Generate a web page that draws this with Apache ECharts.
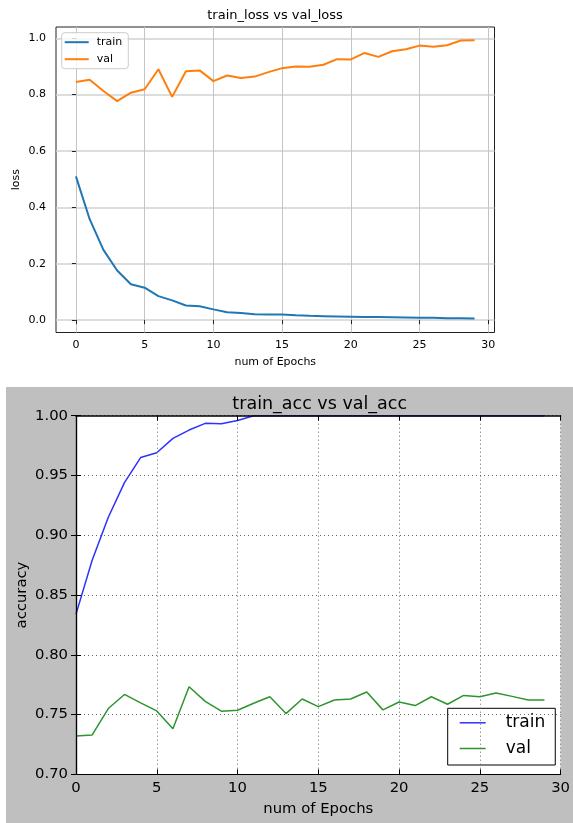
<!DOCTYPE html>
<html>
<head>
<meta charset="utf-8">
<script src="https://cdn.jsdelivr.net/npm/echarts@6/dist/echarts.min.js"></script>
<style>
  body { margin: 0; background: #fff; }
  #loss { position: absolute; left: 0; top: 0; width: 573px; height: 380px; }
  #acc { position: absolute; left: 6px; top: 387px; width: 567px; height: 436px; background: #bfbfbf; }
</style>
</head>
<body>
<div id="loss"></div>
<div id="acc"></div>
<script>
const epochs = [0, 1, 2, 3, 4, 5, 6, 7, 8, 9, 10, 11, 12, 13, 14, 15, 16, 17, 18, 19, 20, 21, 22, 23, 24, 25, 26, 27, 28, 29]
const trainLoss = [0.510, 0.358, 0.249, 0.176, 0.127, 0.115, 0.085, 0.070, 0.052, 0.049, 0.038, 0.028, 0.025, 0.021, 0.020,
  0.020, 0.017, 0.015, 0.014, 0.013, 0.012, 0.011, 0.011, 0.010, 0.009, 0.008, 0.008, 0.007, 0.007, 0.006]
const valLoss = [0.845, 0.853, 0.813, 0.777, 0.807, 0.819, 0.890, 0.792, 0.883, 0.886, 0.848, 0.868, 0.859, 0.864, 0.880,
  0.894, 0.900, 0.899, 0.906, 0.926, 0.925, 0.948, 0.934, 0.954, 0.961, 0.974, 0.970, 0.975, 0.992, 0.993]
const trainAcc = [0.834, 0.879, 0.915, 0.944, 0.965, 0.969, 0.981, 0.988, 0.9936, 0.9933, 0.996, 1.0, 1.0, 1.0, 1.0,
  1.0, 1.0, 1.0, 1.0, 1.0, 1.0, 1.0, 1.0, 1.0, 1.0, 1.0, 1.0, 1.0, 1.0, 1.0]
const valAcc = [0.7320, 0.7329, 0.7550, 0.7668, 0.7597, 0.7530, 0.7381, 0.7732, 0.7610, 0.7528, 0.7536, 0.7594, 0.7649, 0.7508, 0.7630,
  0.7566, 0.7622, 0.7630, 0.7688, 0.7539, 0.7605, 0.7575, 0.7649, 0.7586, 0.7660, 0.7649, 0.7680, 0.7652, 0.7622, 0.7622]
const epochTicks = [0, 5, 10, 15, 20, 25, 30]
const lossTicks = [0, 0.2, 0.4, 0.6, 0.8, 1.0]

const font = 'DejaVu Sans'
const pairs = (ys) => epochs.map((x, i) => [x, ys[i]])

// top figure: train_loss vs val_loss
const lossChart = echarts.init(document.getElementById('loss'), null, { renderer: 'canvas' })
lossChart.setOption({
  animation: false,
  title: {
    text: 'train_loss vs val_loss',
    left: 275,
    top: 9,
    padding: 0,
    textAlign: 'center',
    textStyle: { fontFamily: font, fontSize: 13, fontWeight: 'normal', color: '#000' }
  },
  grid: {
    left: 56, top: 27, width: 438.5, height: 305.5,
    show: true, borderColor: '#222', borderWidth: 1, backgroundColor: '#fff'
  },
  legend: {
    orient: 'vertical',
    left: 61.7,
    top: 32.7,
    padding: [4, 6, 4, 3],
    itemGap: 6,
    itemWidth: 24,
    itemHeight: 2,
    icon: 'rect',
    backgroundColor: 'rgba(255,255,255,0.8)',
    borderColor: '#cccccc',
    borderWidth: 1,
    borderRadius: 3,
    textStyle: { fontFamily: font, fontSize: 11, color: '#000', padding: [0, 0, 0, 3] },
    data: ['train', 'val']
  },
  xAxis: {
    type: 'value',
    min: -1.45,
    max: 30.45,
    name: 'num of Epochs',
    nameLocation: 'middle',
    nameGap: 24,
    nameMoveOverlap: false,
    nameTextStyle: { fontFamily: font, fontSize: 11, color: '#000' },
    axisLine: { show: false },
    axisTick: { show: true, inside: false, length: 4, customValues: epochTicks, lineStyle: { color: '#222' } },
    axisLabel: { customValues: epochTicks, margin: 7, fontFamily: font, fontSize: 11, color: '#000' },
    splitLine: { show: true, lineStyle: { color: '#c4c4c4', width: 1 } }
  },
  yAxis: {
    type: 'value',
    min: -0.044,
    max: 1.04,
    name: 'loss',
    nameLocation: 'middle',
    nameGap: 34,
    nameMoveOverlap: false,
    nameTextStyle: { fontFamily: font, fontSize: 11, color: '#000' },
    axisLine: { show: false },
    axisTick: { show: true, inside: false, length: 4, customValues: lossTicks, lineStyle: { color: '#222' } },
    axisLabel: { customValues: lossTicks, margin: 10, fontFamily: font, fontSize: 11, color: '#000', formatter: v => v.toFixed(1) },
    splitLine: { show: true, lineStyle: { color: '#d2d2d2', width: 1.5 } }
  },
  series: [
    {
      name: 'train', type: 'line', data: pairs(trainLoss), symbol: 'none',
      lineStyle: { color: '#1f77b4', width: 2 }, itemStyle: { color: '#1f77b4' }
    },
    {
      name: 'val', type: 'line', data: pairs(valLoss), symbol: 'none',
      lineStyle: { color: '#ff7f0e', width: 2 }, itemStyle: { color: '#ff7f0e' }
    }
  ]
})

// bottom figure: train_acc vs val_acc (classic style)
const dotted = { color: '#666', width: 1, type: [1, 3] }
const accChart = echarts.init(document.getElementById('acc'), null, { renderer: 'canvas' })
accChart.setOption({
  animation: false,
  title: {
    text: 'train_acc vs val_acc',
    left: 313.7,
    top: 8,
    padding: 0,
    textAlign: 'center',
    textStyle: { fontFamily: font, fontSize: 17.5, fontWeight: 'normal', color: '#000' }
  },
  grid: {
    left: 70, top: 28.7, width: 487.3, height: 358.6,
    show: true, borderWidth: 0, backgroundColor: '#fff'
  },
  legend: {
    orient: 'vertical',
    left: 441.7,
    top: 321.3,
    padding: [6, 10, 8, 12],
    itemGap: 8.7,
    itemWidth: 26,
    itemHeight: 1.5,
    icon: 'rect',
    backgroundColor: '#fff',
    borderColor: '#000',
    borderWidth: 1,
    borderRadius: 0,
    textStyle: { fontFamily: font, fontSize: 17, color: '#000', padding: [0, 0, 0, 15] },
    data: ['train', 'val']
  },
  xAxis: [
    {
      type: 'value', position: 'bottom', min: 0, max: 30, interval: 5,
      name: 'num of Epochs',
      nameLocation: 'middle',
      nameGap: 27,
      nameMoveOverlap: false,
      nameTextStyle: { fontFamily: font, fontSize: 14.8, color: '#000' },
      axisLine: { show: true, lineStyle: { color: '#000', width: 1.2 } },
      axisTick: { show: true, inside: true, length: 5, lineStyle: { color: '#000' } },
      axisLabel: { margin: 6, fontFamily: font, fontSize: 14.8, color: '#000' },
      splitLine: { show: true, lineStyle: dotted },
      z: 5
    },
    {
      type: 'value', position: 'top', min: 0, max: 30, interval: 5,
      axisLine: { show: true, lineStyle: { color: '#000', width: 1.6 } },
      axisTick: { show: true, inside: true, length: 5, lineStyle: { color: '#000' } },
      axisLabel: { show: false },
      splitLine: { show: false },
      z: 5
    }
  ],
  yAxis: [
    {
      type: 'value', position: 'left', min: 0.7, max: 1.0, interval: 0.05,
      name: 'accuracy',
      nameLocation: 'middle',
      nameGap: 46,
      nameMoveOverlap: false,
      nameTextStyle: { fontFamily: font, fontSize: 14.8, color: '#000' },
      axisLine: { show: true, lineStyle: { color: '#000', width: 1.2 } },
      axisTick: { show: true, inside: true, length: 5, lineStyle: { color: '#000' } },
      axisLabel: { margin: 8, fontFamily: font, fontSize: 14.8, color: '#000', formatter: v => v.toFixed(2) },
      splitLine: { show: true, lineStyle: dotted },
      z: 5
    },
    {
      type: 'value', position: 'right', min: 0.7, max: 1.0, interval: 0.05,
      axisLine: { show: true, lineStyle: { color: '#000', width: 1.2 } },
      axisTick: { show: true, inside: true, length: 5, lineStyle: { color: '#000' } },
      axisLabel: { show: false },
      splitLine: { show: false },
      z: 5
    }
  ],
  series: [
    {
      name: 'train', type: 'line', data: pairs(trainAcc), symbol: 'none',
      xAxisIndex: 0, yAxisIndex: 0,
      lineStyle: { color: '#3030ff', width: 1.5 }, itemStyle: { color: '#3030ff' }
    },
    {
      name: 'val', type: 'line', data: pairs(valAcc), symbol: 'none',
      xAxisIndex: 0, yAxisIndex: 0,
      lineStyle: { color: '#2e952e', width: 1.5 }, itemStyle: { color: '#2e952e' }
    }
  ]
})
</script>
</body>
</html>
